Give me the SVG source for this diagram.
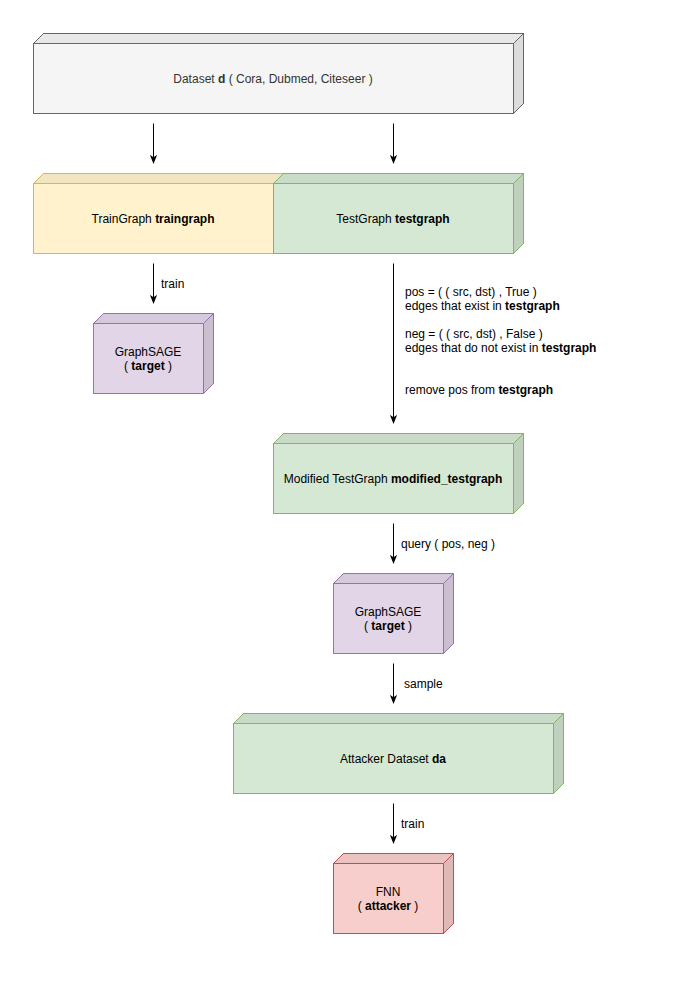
<svg xmlns="http://www.w3.org/2000/svg" width="691" height="982" viewBox="0 0 691 982">
<style>
text{font-family:"Liberation Sans",Arial,sans-serif;font-size:12px;fill:#000;stroke:none}
.c{text-anchor:middle}
.b{font-weight:bold}
.dk{fill:#000;fill-opacity:0.05;stroke:none}
.dk2{fill:#000;fill-opacity:0.1;stroke:none}
.e{stroke:#000;stroke-width:1;fill:none}
</style>
<defs>
<marker id="ar" viewBox="0 0 10 10" refX="9" refY="5" markerWidth="9" markerHeight="9" markerUnits="userSpaceOnUse" orient="auto">
<path d="M0,1 L10,5 L0,9 L2.5,5 Z" fill="#000"/>
</marker>
</defs>
<rect width="691" height="982" fill="#fff"/>

<g id="dataset" stroke="#666666">
<path d="M33.5,43.5 L43.5,33.5 L523.5,33.5 L523.5,103.5 L513.5,113.5 L33.5,113.5 Z" fill="#f5f5f5"/>
<path class="dk" d="M33.5,43.5 L43.5,33.5 L523.5,33.5 L513.5,43.5 Z"/>
<path class="dk2" d="M513.5,43.5 L523.5,33.5 L523.5,103.5 L513.5,113.5 Z"/>
<path d="M33.5,43.5 L513.5,43.5 L523.5,33.5 M513.5,43.5 L513.5,113.5" fill="none"/>
<path d="M33.5,43.5 L43.5,33.5 L523.5,33.5 L523.5,103.5 L513.5,113.5 L33.5,113.5 Z" fill="none"/>
<text x="273" y="83" class="c" style="fill:#333333">Dataset <tspan class="b">d</tspan> ( Cora, Dubmed, Citeseer )</text>
</g>

<g id="traingraph" stroke="#d6b656">
<path d="M33.5,183.5 L43.5,173.5 L283.5,173.5 L283.5,243.5 L273.5,253.5 L33.5,253.5 Z" fill="#fff2cc"/>
<path class="dk" d="M33.5,183.5 L43.5,173.5 L283.5,173.5 L273.5,183.5 Z"/>
<path d="M33.5,183.5 L43.5,173.5 L283.5,173.5 L273.5,183.5 Z M33.5,183.5 L33.5,253.5 L273.5,253.5" fill="none"/>
<text x="153" y="223" class="c">TrainGraph <tspan class="b">traingraph</tspan></text>
</g>

<g id="testgraph" stroke="#82b366">
<path d="M273.5,183.5 L283.5,173.5 L523.5,173.5 L523.5,243.5 L513.5,253.5 L273.5,253.5 Z" fill="#d5e8d4"/>
<path class="dk" d="M273.5,183.5 L283.5,173.5 L523.5,173.5 L513.5,183.5 Z"/>
<path class="dk2" d="M513.5,183.5 L523.5,173.5 L523.5,243.5 L513.5,253.5 Z"/>
<path d="M273.5,183.5 L513.5,183.5 L523.5,173.5 M513.5,183.5 L513.5,253.5" fill="none"/>
<path d="M273.5,183.5 L283.5,173.5 L523.5,173.5 L523.5,243.5 L513.5,253.5 L273.5,253.5 Z" fill="none"/>
<text x="393" y="223" class="c">TestGraph <tspan class="b">testgraph</tspan></text>
</g>

<g id="graphsage1" stroke="#9673a6">
<path d="M93.5,323.5 L103.5,313.5 L213.5,313.5 L213.5,383.5 L203.5,393.5 L93.5,393.5 Z" fill="#e1d5e7"/>
<path class="dk" d="M93.5,323.5 L103.5,313.5 L213.5,313.5 L203.5,323.5 Z"/>
<path class="dk2" d="M203.5,323.5 L213.5,313.5 L213.5,383.5 L203.5,393.5 Z"/>
<path d="M93.5,323.5 L203.5,323.5 L213.5,313.5 M203.5,323.5 L203.5,393.5" fill="none"/>
<path d="M93.5,323.5 L103.5,313.5 L213.5,313.5 L213.5,383.5 L203.5,393.5 L93.5,393.5 Z" fill="none"/>
<text x="148" y="356" class="c">GraphSAGE</text>
<text x="148" y="370" class="c">( <tspan class="b">target</tspan> )</text>
</g>

<g id="modified" stroke="#82b366">
<path d="M273.5,443.5 L283.5,433.5 L523.5,433.5 L523.5,503.5 L513.5,513.5 L273.5,513.5 Z" fill="#d5e8d4"/>
<path class="dk" d="M273.5,443.5 L283.5,433.5 L523.5,433.5 L513.5,443.5 Z"/>
<path class="dk2" d="M513.5,443.5 L523.5,433.5 L523.5,503.5 L513.5,513.5 Z"/>
<path d="M273.5,443.5 L513.5,443.5 L523.5,433.5 M513.5,443.5 L513.5,513.5" fill="none"/>
<path d="M273.5,443.5 L283.5,433.5 L523.5,433.5 L523.5,503.5 L513.5,513.5 L273.5,513.5 Z" fill="none"/>
<text x="393" y="483" class="c">Modified TestGraph <tspan class="b">modified_testgraph</tspan></text>
</g>

<g id="graphsage2" stroke="#9673a6">
<path d="M333.5,583.5 L343.5,573.5 L453.5,573.5 L453.5,643.5 L443.5,653.5 L333.5,653.5 Z" fill="#e1d5e7"/>
<path class="dk" d="M333.5,583.5 L343.5,573.5 L453.5,573.5 L443.5,583.5 Z"/>
<path class="dk2" d="M443.5,583.5 L453.5,573.5 L453.5,643.5 L443.5,653.5 Z"/>
<path d="M333.5,583.5 L443.5,583.5 L453.5,573.5 M443.5,583.5 L443.5,653.5" fill="none"/>
<path d="M333.5,583.5 L343.5,573.5 L453.5,573.5 L453.5,643.5 L443.5,653.5 L333.5,653.5 Z" fill="none"/>
<text x="388" y="616" class="c">GraphSAGE</text>
<text x="388" y="630" class="c">( <tspan class="b">target</tspan> )</text>
</g>

<g id="attackerdataset" stroke="#82b366">
<path d="M233.5,723.5 L243.5,713.5 L563.5,713.5 L563.5,783.5 L553.5,793.5 L233.5,793.5 Z" fill="#d5e8d4"/>
<path class="dk" d="M233.5,723.5 L243.5,713.5 L563.5,713.5 L553.5,723.5 Z"/>
<path class="dk2" d="M553.5,723.5 L563.5,713.5 L563.5,783.5 L553.5,793.5 Z"/>
<path d="M233.5,723.5 L553.5,723.5 L563.5,713.5 M553.5,723.5 L553.5,793.5" fill="none"/>
<path d="M233.5,723.5 L243.5,713.5 L563.5,713.5 L563.5,783.5 L553.5,793.5 L233.5,793.5 Z" fill="none"/>
<text x="393" y="763" class="c">Attacker Dataset <tspan class="b">da</tspan></text>
</g>

<g id="fnn" stroke="#b85450">
<path d="M333.5,863.5 L343.5,853.5 L453.5,853.5 L453.5,923.5 L443.5,933.5 L333.5,933.5 Z" fill="#f8cecc"/>
<path class="dk" d="M333.5,863.5 L343.5,853.5 L453.5,853.5 L443.5,863.5 Z"/>
<path class="dk2" d="M443.5,863.5 L453.5,853.5 L453.5,923.5 L443.5,933.5 Z"/>
<path d="M333.5,863.5 L443.5,863.5 L453.5,853.5 M443.5,863.5 L443.5,933.5" fill="none"/>
<path d="M333.5,863.5 L343.5,853.5 L453.5,853.5 L453.5,923.5 L443.5,933.5 L333.5,933.5 Z" fill="none"/>
<text x="388" y="896" class="c">FNN</text>
<text x="388" y="910" class="c">( <tspan class="b">attacker</tspan> )</text>
</g>

<g id="connectors">
<path class="e" d="M153.5,123.5 L153.5,163" marker-end="url(#ar)"/>
<path class="e" d="M393.5,123.5 L393.5,163" marker-end="url(#ar)"/>
<path class="e" d="M153.5,263.5 L153.5,303" marker-end="url(#ar)"/>
<text x="161" y="288">train</text>
<path class="e" d="M393.5,263.5 L393.5,423" marker-end="url(#ar)"/>
<text x="405" y="296">pos = ( ( src, dst) , True )</text>
<text x="405" y="310">edges that exist in <tspan class="b">testgraph</tspan></text>
<text x="405" y="338">neg = ( ( src, dst) , False )</text>
<text x="405" y="352">edges that do not exist in <tspan class="b">testgraph</tspan></text>
<text x="405" y="394">remove pos from <tspan class="b">testgraph</tspan></text>
<path class="e" d="M393.5,523.5 L393.5,563" marker-end="url(#ar)"/>
<text x="401" y="548">query ( pos, neg )</text>
<path class="e" d="M393.5,663.5 L393.5,703" marker-end="url(#ar)"/>
<text x="404" y="688">sample</text>
<path class="e" d="M393.5,803.5 L393.5,843" marker-end="url(#ar)"/>
<text x="401" y="828">train</text>
</g>
</svg>
